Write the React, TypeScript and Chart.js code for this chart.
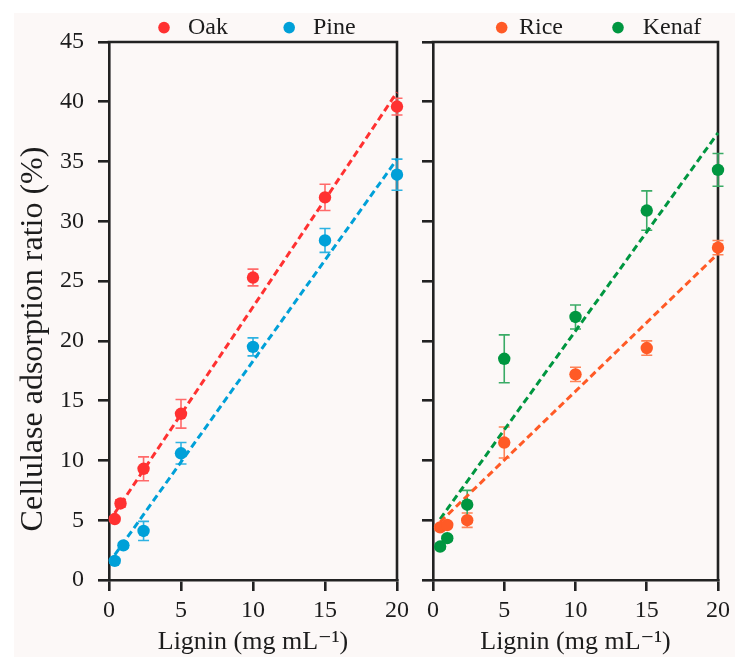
import React, { useEffect, useRef } from 'react';
import { Chart, registerables } from 'chart.js';

Chart.register(...registerables);

// ---------- data ----------
const xTickValues = [0, 5, 10, 15, 20];
const yTickValues = [0, 5, 10, 15, 20, 25, 30, 35, 40, 45];

const oakX = [0.4, 0.8, 2.4, 5, 10, 15, 20];
const oakY = [5.1, 6.4, 9.3, 13.9, 25.3, 32.0, 39.6];
const oakErr = [0.2, 0.3, 1.0, 1.2, 0.7, 1.1, 0.7];
const oakFitX = [0.4, 20];
const oakFitY = [5.6, 40.8];

const pineX = [0.4, 1.0, 2.4, 5, 10, 15, 20];
const pineY = [1.6, 2.9, 4.1, 10.6, 19.5, 28.4, 33.9];
const pineErr = [0.2, 0.2, 0.8, 0.9, 0.75, 1.0, 1.3];
const pineFitX = [0.4, 20];
const pineFitY = [2.1, 35.2];

const riceX = [0.5, 1.0, 2.4, 5, 10, 15, 20];
const riceY = [4.4, 4.6, 5.0, 11.5, 17.2, 19.4, 27.8];
const riceErr = [0.2, 0.2, 0.6, 1.3, 0.6, 0.6, 0.6];
const riceFitX = [0.5, 20];
const riceFitY = [4.85, 27.3];

const kenafX = [0.5, 1.0, 2.4, 5, 10, 15, 20];
const kenafY = [2.8, 3.5, 6.3, 18.5, 22.0, 30.9, 34.3];
const kenafErr = [0.2, 0.2, 1.2, 2.0, 1.0, 1.65, 1.37];
const kenafFitX = [0.5, 20];
const kenafFitY = [5.1, 37.4];

const yTitleText = 'Cellulase adsorption ratio (%)';
const xTitleText = 'Lignin (mg mL\u207B\u00B9)';

// ---------- styles ----------
const FAMILY = '"Liberation Serif", "Times New Roman", "DejaVu Serif", serif';
const AXIS = '#222222';
const TEXT = '#1c1c1c';
const OAK = '#ff3131';
const OAK_ERR = '#ff6a6a';
const PINE = '#00a0d8';
const PINE_ERR = '#2eb2e2';
const RICE = '#ff5a26';
const RICE_ERR = '#ff8256';
const KENAF = '#009640';
const KENAF_ERR = '#3aab66';
const W = 735;
const H = 657;

const pts = (xs: number[], ys: number[]) => xs.map((x, i) => ({ x, y: ys[i] }));

const pointSet = (label: string, xs: number[], ys: number[], errs: number[], color: string, errColor: string) => ({
  label,
  data: pts(xs, ys),
  backgroundColor: color,
  borderColor: color,
  borderWidth: 0,
  pointRadius: 6.2,
  pointHoverRadius: 6.2,
  clip: false,
  errors: errs,
  errorColor: errColor,
  inLegend: true,
});

const fitSet = (label: string, xs: number[], ys: number[], color: string) => ({
  label,
  data: pts(xs, ys),
  showLine: true,
  borderColor: color,
  backgroundColor: color,
  borderWidth: 3,
  borderDash: [7, 4],
  pointRadius: 0,
  pointHoverRadius: 0,
  clip: false,
  fill: false,
});

const framePlugin = {
  id: 'frameBox',
  beforeDatasetsDraw(chart: any) {
    const { ctx, chartArea } = chart;
    const { left, right, top, bottom } = chartArea;
    ctx.save();
    ctx.strokeStyle = AXIS;
    ctx.lineWidth = 2.6;
    ctx.beginPath();
    ctx.moveTo(left - 1.3, top);
    ctx.lineTo(right, top);
    ctx.lineTo(right, bottom + 1.3);
    ctx.stroke();
    ctx.restore();
  },
};

const errorBarPlugin = {
  id: 'errorBars',
  beforeDatasetsDraw(chart: any) {
    const { ctx } = chart;
    const xs = chart.scales.x;
    const ys = chart.scales.y;
    const CAP = 5.5;
    chart.data.datasets.forEach((ds: any) => {
      if (!ds.errors) return;
      ctx.save();
      ctx.strokeStyle = ds.errorColor;
      ctx.lineWidth = 1.6;
      ds.data.forEach((p: any, j: number) => {
        const e = ds.errors[j];
        const x = xs.getPixelForValue(p.x);
        const y1 = ys.getPixelForValue(p.y + e);
        const y2 = ys.getPixelForValue(p.y - e);
        ctx.beginPath();
        ctx.moveTo(x, y1);
        ctx.lineTo(x, y2);
        ctx.moveTo(x - CAP, y1);
        ctx.lineTo(x + CAP, y1);
        ctx.moveTo(x - CAP, y2);
        ctx.lineTo(x + CAP, y2);
        ctx.stroke();
      });
      ctx.restore();
    });
  },
};

const makeLegend = (positions: { dot: number; text: number }[]) => ({
  id: 'panelLegend',
  afterDraw(chart: any) {
    const { ctx } = chart;
    const items = chart.data.datasets.filter((d: any) => d.inLegend);
    ctx.save();
    items.forEach((ds: any, k: number) => {
      const pos = positions[k];
      ctx.fillStyle = ds.backgroundColor;
      ctx.beginPath();
      ctx.arc(pos.dot, 27.6, 5.8, 0, Math.PI * 2);
      ctx.fill();
      ctx.fillStyle = TEXT;
      ctx.font = `24px ${FAMILY}`;
      ctx.textBaseline = 'alphabetic';
      ctx.textAlign = 'left';
      ctx.fillText(ds.label, pos.text, 33.5);
    });
    ctx.restore();
  },
});

const yTitlePlugin = {
  id: 'yTitle',
  afterDraw(chart: any) {
    const { ctx } = chart;
    ctx.save();
    ctx.translate(41.5, 339);
    ctx.rotate(-Math.PI / 2);
    ctx.fillStyle = TEXT;
    ctx.font = `32px ${FAMILY}`;
    ctx.textAlign = 'center';
    ctx.textBaseline = 'alphabetic';
    ctx.fillText(yTitleText, 0, 0);
    ctx.restore();
  },
};

const axisCommon = (showLabels: boolean) => ({
  type: 'linear' as const,
  grid: {
    drawOnChartArea: false,
    drawTicks: true,
    tickLength: 11,
    tickWidth: 2.6,
    tickColor: AXIS,
    color: AXIS,
    lineWidth: 2.6,
  },
  border: { display: true, color: AXIS, width: 2.6 },
  ticks: {
    display: showLabels,
    color: TEXT,
    font: { family: FAMILY, size: 24 },
  },
});

const makeOptions = (pad: any, yWidth: number, showYLabels: boolean) => ({
  responsive: false,
  animation: false,
  devicePixelRatio: 1,
  events: [],
  layout: { padding: pad },
  plugins: { legend: { display: false }, tooltip: { enabled: false } },
  scales: {
    x: {
      ...axisCommon(true),
      min: 0,
      max: 20,
      afterBuildTicks: (s: any) => {
        s.ticks = xTickValues.map((v) => ({ value: v }));
      },
      afterFit: (s: any) => {
        s.height = 77;
      },
      ticks: { ...axisCommon(true).ticks, padding: 5, maxRotation: 0 },
      title: {
        display: true,
        text: xTitleText,
        color: TEXT,
        font: { family: FAMILY, size: 26 },
        padding: { top: 0, bottom: -1 },
      },
    },
    y: {
      ...axisCommon(showYLabels),
      min: 0,
      max: 45,
      afterBuildTicks: (s: any) => {
        s.ticks = yTickValues.map((v) => ({ value: v }));
      },
      afterFit: (s: any) => {
        s.width = yWidth;
      },
      ticks: { ...axisCommon(showYLabels).ticks, padding: 14 },
    },
  },
});

export default function App() {
  const leftRef = useRef<HTMLCanvasElement | null>(null);
  const rightRef = useRef<HTMLCanvasElement | null>(null);

  useEffect(() => {
    const left = new Chart(leftRef.current as HTMLCanvasElement, {
      type: 'scatter',
      data: {
        datasets: [
          pointSet('Oak', oakX, oakY, oakErr, OAK, OAK_ERR),
          pointSet('Pine', pineX, pineY, pineErr, PINE, PINE_ERR),
          fitSet('Oak fit', oakFitX, oakFitY, OAK),
          fitSet('Pine fit', pineFitX, pineFitY, PINE),
        ] as any,
      },
      options: makeOptions({ top: 42, left: 0, right: W - 397, bottom: 0 }, 109, true) as any,
      plugins: [framePlugin, errorBarPlugin, makeLegend([{ dot: 164, text: 188 }, { dot: 289.2, text: 313 }]), yTitlePlugin],
    });
    const right = new Chart(rightRef.current as HTMLCanvasElement, {
      type: 'scatter',
      data: {
        datasets: [
          pointSet('Rice', riceX, riceY, riceErr, RICE, RICE_ERR),
          pointSet('Kenaf', kenafX, kenafY, kenafErr, KENAF, KENAF_ERR),
          fitSet('Rice fit', riceFitX, riceFitY, RICE),
          fitSet('Kenaf fit', kenafFitX, kenafFitY, KENAF),
        ] as any,
      },
      options: makeOptions({ top: 42, left: 421, right: W - 722, bottom: 0 }, 12, false) as any,
      plugins: [framePlugin, errorBarPlugin, makeLegend([{ dot: 501.7, text: 519 }, { dot: 618, text: 642.7 }])],
    });
    return () => {
      left.destroy();
      right.destroy();
    };
  }, []);

  return (
    <div style={{ position: 'fixed', left: 0, top: 0, width: W, height: H, background: '#ffffff', overflow: 'hidden' }}>
      <div style={{ position: 'absolute', left: 14, top: 13, width: W - 14, height: H - 13, background: '#fcf8f7' }} />
      <canvas ref={leftRef} width={W} height={H} style={{ position: 'absolute', left: 0, top: 0, width: W, height: H }} />
      <canvas ref={rightRef} width={W} height={H} style={{ position: 'absolute', left: 0, top: 0, width: W, height: H }} />
    </div>
  );
}
